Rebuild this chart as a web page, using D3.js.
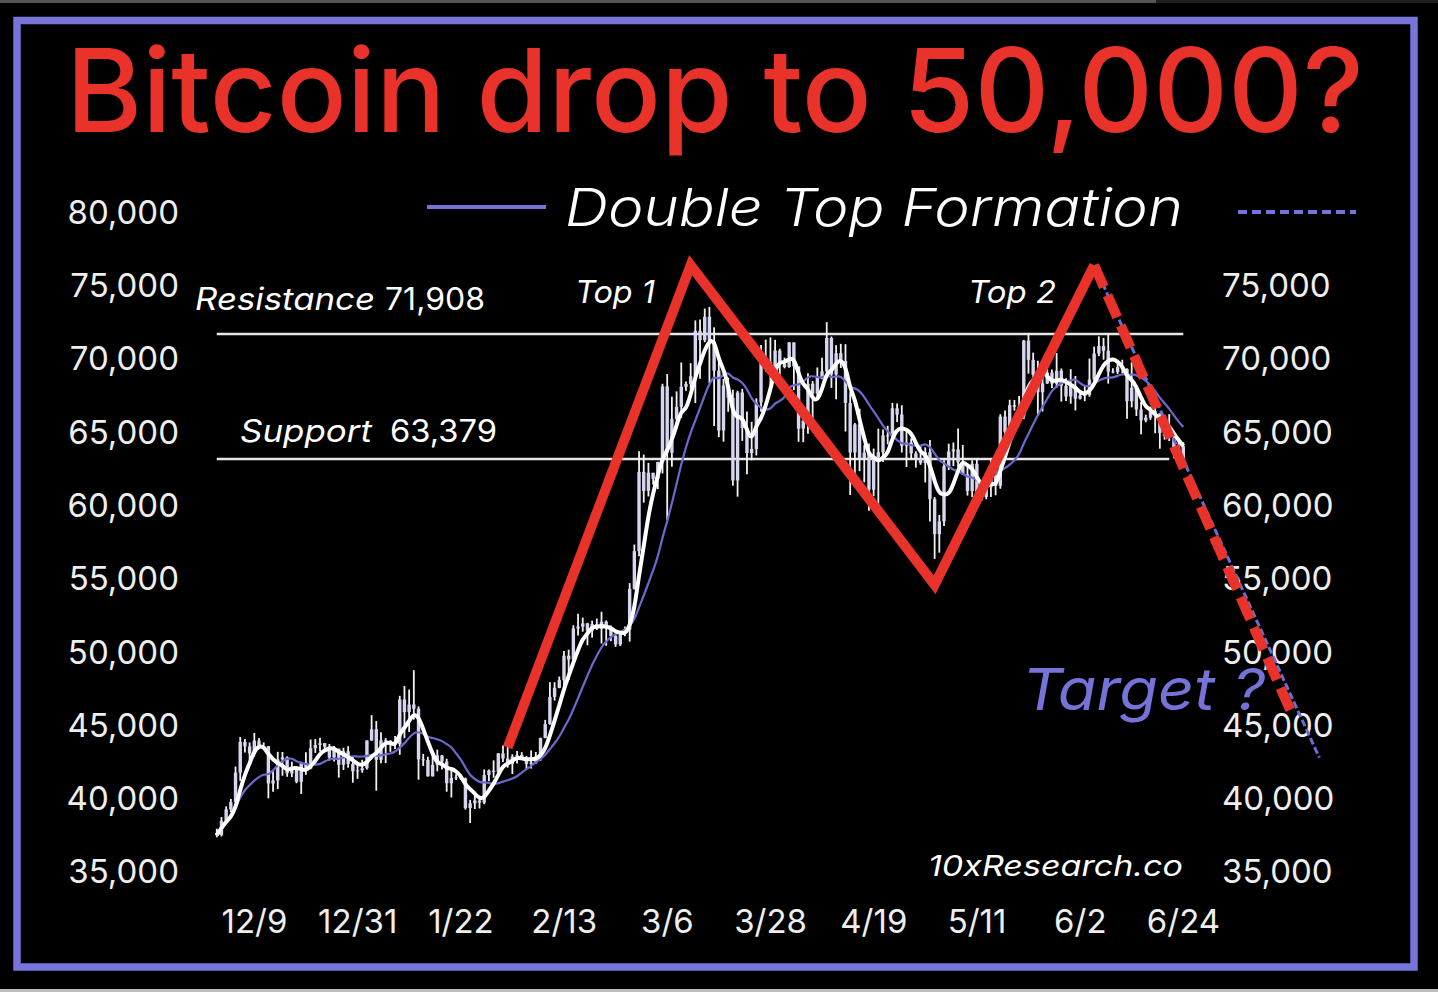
<!DOCTYPE html>
<html>
<head>
<meta charset="utf-8">
<script src="https://cdn.jsdelivr.net/npm/d3@7"></script>
<style>
  html, body { margin: 0; padding: 0; background: #000; }
  svg { display: block; }
  text { font-family: Inter, "Noto Sans", sans-serif; }
</style>
</head>
<body>
<div class="chart"></div>
<script>
var width = 1438;
var height = 992;

// BTC daily bars, 2023-11-30 .. 2024-06-23
var firstDay = "2023-11-30";
var firstOpen = 37860;

var highs = [
  38160,
  // Dec
  38950,39680,40190,42400,44420,44270,44040,44690,44350,44040,43800,42070,43400,43390,43090,42730,
  42400,42720,43370,44240,44270,44370,44010,43940,43800,43620,43680,43790,43110,42580,42860,
  // Jan
  44180,45900,45500,44730,44340,44190,44480,47220,47890,47650,48970,46500,43260,43070,43320,43550,
  43180,42930,42130,41870,41890,41650,40120,40540,40260,42200,42200,42820,43310,43840,43740,
  // Feb
  43240,43460,43380,43120,43500,43390,44370,45580,48150,48150,48540,50280,50370,52040,52820,
  52560,52200,52350,52490,52960,52370,52020,51500,51650,51950,54910,57540,63910,63680,
  // Mar
  63110,62430,63190,68510,69170,67630,67990,69960,68670,69910,72830,72890,73640,73750,72360,70020,
  68840,68920,68100,68030,68160,66620,65910,67520,71160,71520,71670,71510,70900,70290,71340,
  // Apr
  71320,69670,66870,69230,68690,69620,70280,72710,71730,71140,71230,71210,67920,65830,66810,
  64330,64440,64090,65450,65390,65640,67200,67170,67040,65280,64790,63900,64320,64170,64680,
  // May
  60780,59560,63290,64420,64500,65450,64340,62940,63290,63440,61460,61800,63420,63080,66430,66680,
  67420,67400,67680,71500,71950,70630,70080,69190,69570,69490,70600,69550,68880,69500,69040,
  // Jun
  67860,68410,70230,71040,71740,71630,71950,69560,69890,70150,69560,69980,68370,67280,66400,
  66950,67190,66490,65700,66440,65070,64520,64520
];

var lows = [
  37570,
  // Dec
  37630,38650,39290,39960,41420,43360,42820,43080,43600,43590,40230,40680,40860,41770,41700,41680,
  41260,40530,41830,42210,43330,43430,43590,42800,42750,41640,42160,42320,41300,41560,41970,
  // Jan
  42200,44150,40750,42630,42630,43400,43600,43200,44330,44750,45600,41500,42440,41720,41720,42070,
  42200,40680,40290,41480,41500,39460,38550,39500,39540,39830,41400,41640,41810,42700,42320,
  // Feb
  41890,42600,42880,42200,42260,42580,42790,44330,45250,46900,47740,47710,48300,49300,51330,
  51600,50670,51190,51720,50790,50640,50950,50560,50620,51290,50920,54470,56740,60400,
  // Mar
  60820,61630,61320,62390,59220,62850,65620,66180,68040,68170,67190,68850,71340,68560,65630,64870,
  64560,66600,61560,60810,64610,62330,63290,63620,66600,69340,68430,68860,69140,69560,69600,
  // Apr
  68080,64550,64520,65100,66130,67530,68820,69080,68230,67450,69580,65250,60920,62210,62550,
  61790,59840,60850,59640,63170,64380,64570,65900,63820,62830,63370,62790,62980,61780,59120,
  // May
  56560,56990,58810,62630,62900,62800,62310,60880,60780,60280,60520,60630,60780,60900,61350,64620,
  65120,66670,65880,66100,69200,68950,66310,66620,68500,68220,68230,67290,67340,67150,66690,
  // Jun
  67440,67320,67620,68560,70390,70150,68520,69230,69170,69230,66130,66900,66310,65060,65880,
  66050,65130,64080,64700,64600,63420,63940,63180
];

var closes = [
  37720,
  // Dec
  38690,39470,39970,41980,44080,43770,43290,44170,43730,43790,41240,41450,42890,43020,41930,42240,
  41360,42660,42260,43650,43870,43990,43740,43020,43610,42520,43440,42580,42070,42140,42280,
  // Jan
  44180,44940,42850,44180,44160,43970,43930,46970,46110,46630,46340,42890,42850,41730,42510,43150,
  42740,41260,41620,41660,41580,39570,39890,40080,39940,41820,42120,42030,43300,42940,42580,
  // Feb
  43080,43190,43000,42580,42660,43090,44340,45290,47150,47770,48290,49960,49700,51810,51940,
  52160,51660,52120,51780,52280,51840,51300,50730,51570,51730,54520,57090,62500,61200,
  // Mar
  62440,62030,63170,68330,63800,66110,66930,68300,68500,69020,72120,71480,73080,71400,69400,65320,
  68390,67550,61910,67910,65490,63780,64060,67230,69960,69990,69450,70780,69890,69650,71330,
  // Apr
  69700,65450,65980,68510,67840,68900,69360,71630,69140,70590,70060,67200,63820,65740,63420,
  63810,61280,63510,63840,64990,64930,66840,66410,64280,64500,63760,63420,63110,63840,60640,
  // May
  58250,59120,62890,63890,64030,63160,62330,61190,63050,60790,60790,61450,62900,61550,66270,65230,
  67050,66940,66280,71450,70140,69120,67930,68530,69270,68510,69400,68370,67640,68350,67490,
  // Jun
  67710,67750,68800,70570,71080,70760,69340,69310,69650,69510,67320,68240,66750,66010,66190,
  66640,66490,65150,64960,64830,64100,64250,63180
];

var fastWindow = 5;   // white average
var slowWindow = 12;  // blue average

var xTickDays = ["2023-12-09","2023-12-31","2024-01-22","2024-02-13","2024-03-06",
                 "2024-03-28","2024-04-19","2024-05-11","2024-06-02","2024-06-24"];
var yTicksLeft = [35000, 40000, 45000, 50000, 55000, 60000, 65000, 70000, 75000, 80000];
var yTicksRight = [35000, 40000, 45000, 50000, 55000, 60000, 65000, 70000, 75000];

var levelNames = ["Resistance", "Support"];
var levelValues = [71908, 63379];
var levelStart = ["2023-11-30", "2023-11-30"];
var levelEnd = ["2024-06-23", "2024-06-20"];

// the hand-drawn double top
var patternDays = ["2024-01-31", "2024-03-10", "2024-05-01", "2024-06-04"];
var patternValues = [43700, 76600, 54800, 76600];
var targetDays = ["2024-06-04", "2024-07-16"];
var targetValues = [76600, 46100];
var projDays = ["2024-06-04", "2024-07-22"];
var projValues = [76600, 43000];

var parseDay = d3.timeParse("%Y-%m-%d");
var purple = "#7673d8";
var red = "#e8322a";

var svg = d3.select(".chart")
  .append("svg")
    .attr("width", width)
    .attr("height", height);

svg.append("rect")
  .attr("width", width)
  .attr("height", height)
  .attr("fill", "#000");

// screenshot edges
svg.append("rect").attr("x", 0).attr("y", 0).attr("width", 1156).attr("height", 3).attr("fill", "#555");
svg.append("rect").attr("x", 1156).attr("y", 0).attr("width", width - 1156).attr("height", 3).attr("fill", "#1e1e1e");
svg.append("rect").attr("x", 0).attr("y", 989).attr("width", width).attr("height", 3).attr("fill", "#bdbdbd");

var xScale = d3.scaleTime()
  .domain([parseDay("2023-12-09"), parseDay("2024-06-24")])
  .range([259, 1188]);

var yScale = d3.scaleLinear()
  .domain([35000, 80000])
  .range([875, 215.3]);

// bars
var start = parseDay(firstDay);
var bars = closes.map(function(c, i) {
  return {
    date: d3.timeDay.offset(start, i),
    open: i ? closes[i - 1] : firstOpen,
    high: highs[i],
    low: lows[i],
    close: c
  };
});

function movingAverage(n) {
  return bars.map(function(b, i) {
    return { date: b.date, v: d3.mean(closes.slice(Math.max(0, i - n + 1), i + 1)) };
  });
}

// Axes
var fmt = d3.format(",");

var left = svg.append("g")
  .attr("transform", "translate(179,0)")
  .call(d3.axisLeft(yScale).tickValues(yTicksLeft).tickFormat(fmt).tickSize(0).tickPadding(0));

var right = svg.append("g")
  .attr("transform", "translate(1222,0)")
  .call(d3.axisRight(yScale).tickValues(yTicksRight).tickFormat(fmt).tickSize(0).tickPadding(0));

var bottom = svg.append("g")
  .attr("transform", "translate(0,910)")
  .call(d3.axisBottom(xScale)
    .tickValues(xTickDays.map(parseDay))
    .tickFormat(d3.timeFormat("%-m/%-d"))
    .tickSize(0).tickPadding(0));

[left, right, bottom].forEach(function(g) {
  g.select(".domain").remove();
  g.selectAll("text")
    .attr("fill", "#eeeeee")
    .attr("font-size", "33px")
    .attr("font-family", "Inter, sans-serif");
});
left.selectAll("text").attr("dy", "0.24em");
right.selectAll("text").attr("dy", "0.24em");
bottom.selectAll("text").attr("dx", -5);

// Support / resistance
levelValues.forEach(function(v, i) {
  svg.append("line")
    .attr("x1", xScale(parseDay(levelStart[i])))
    .attr("x2", xScale(parseDay(levelEnd[i])))
    .attr("y1", yScale(v))
    .attr("y2", yScale(v))
    .attr("stroke", "#e6e6e6")
    .attr("stroke-width", 2.5);
});

// Labels
function label(txt, x, y, size, opts) {
  opts = opts || {};
  var t = svg.append("text")
    .text(txt)
    .attr("x", x)
    .attr("y", y)
    .attr("font-size", size + "px")
    .attr("fill", opts.fill || "#fff")
    .attr("font-weight", opts.weight || 400)
    .attr("font-style", opts.italic ? "italic" : "normal");
  if (opts.len) t.attr("textLength", opts.len).attr("lengthAdjust", "spacingAndGlyphs");
  return t;
}

label("Bitcoin drop to 50,000?", 66, 132, 116, { fill: red, weight: 500, len: 1298 });

svg.append("line")
  .attr("x1", 427).attr("x2", 546).attr("y1", 207).attr("y2", 207)
  .attr("stroke", purple).attr("stroke-width", 4);
label("Double Top Formation", 565, 226, 52, { italic: true, weight: 300, len: 618 });
svg.append("line")
  .attr("x1", 1238).attr("x2", 1356).attr("y1", 212).attr("y2", 212)
  .attr("stroke", purple).attr("stroke-width", 4)
  .attr("stroke-dasharray", "9,5");

label(levelNames[0], 195, 310, 31, { italic: true, len: 180 });
label(fmt(levelValues[0]), 385, 310, 31, { len: 100 });
label(levelNames[1], 240, 442, 31, { italic: true, len: 132 });
label(fmt(levelValues[1]), 390, 442, 31, { len: 107 });

label("Top 1", 575, 303, 31, { italic: true, len: 80 });
label("Top 2", 968, 303, 31, { italic: true, len: 88 });
label("Target ?", 1022, 710, 58, { italic: true, weight: 400, fill: purple, len: 243 });
label("10xResearch.co", 928, 876, 29, { italic: true, len: 255 });

// Candles
var candles = svg.append("g");
candles.selectAll("line")
  .data(bars)
  .enter()
  .append("line")
  .attr("x1", function(d) { return xScale(d.date); })
  .attr("x2", function(d) { return xScale(d.date); })
  .attr("y1", function(d) { return yScale(d.high); })
  .attr("y2", function(d) { return yScale(d.low); })
  .attr("stroke", "#f2f2f2")
  .attr("stroke-width", 1.8);

candles.selectAll("rect")
  .data(bars)
  .enter()
  .append("rect")
  .attr("x", function(d) { return xScale(d.date) - 1.7; })
  .attr("y", function(d) { return yScale(Math.max(d.open, d.close)); })
  .attr("width", 3.4)
  .attr("height", function(d) { return Math.max(1, Math.abs(yScale(d.open) - yScale(d.close))); })
  .attr("fill", "#d6d6ee");

// Moving averages
var maLine = d3.line()
  .x(function(d) { return xScale(d.date); })
  .y(function(d) { return yScale(d.v); })
  .curve(d3.curveBasis);

svg.append("path")
  .attr("d", maLine(movingAverage(slowWindow)))
  .attr("fill", "none")
  .attr("stroke", "#6c69cc")
  .attr("stroke-width", 2.2);

svg.append("path")
  .attr("d", maLine(movingAverage(fastWindow)))
  .attr("fill", "none")
  .attr("stroke", "#ffffff")
  .attr("stroke-width", 4);

// Pattern lines
var straight = d3.line()
  .x(function(d) { return xScale(parseDay(d[0])); })
  .y(function(d) { return yScale(d[1]); });

svg.append("path")
  .attr("d", straight(d3.zip(projDays, projValues)))
  .attr("fill", "none")
  .attr("stroke", "#6e6bd4")
  .attr("stroke-width", 3)
  .attr("stroke-dasharray", "7,3");

svg.append("path")
  .attr("d", straight(d3.zip(patternDays, patternValues)))
  .attr("fill", "none")
  .attr("stroke", red)
  .attr("stroke-width", 10)
  .attr("stroke-linejoin", "miter");

svg.append("path")
  .attr("d", straight(d3.zip(targetDays, targetValues)))
  .attr("fill", "none")
  .attr("stroke", red)
  .attr("stroke-width", 10)
  .attr("stroke-dasharray", "24,9");

// Frame
svg.append("rect")
  .attr("x", 17)
  .attr("y", 20.5)
  .attr("width", 1397)
  .attr("height", 946.5)
  .attr("fill", "none")
  .attr("stroke", "#7775da")
  .attr("stroke-width", 7.5);
</script>
</body>
</html>
